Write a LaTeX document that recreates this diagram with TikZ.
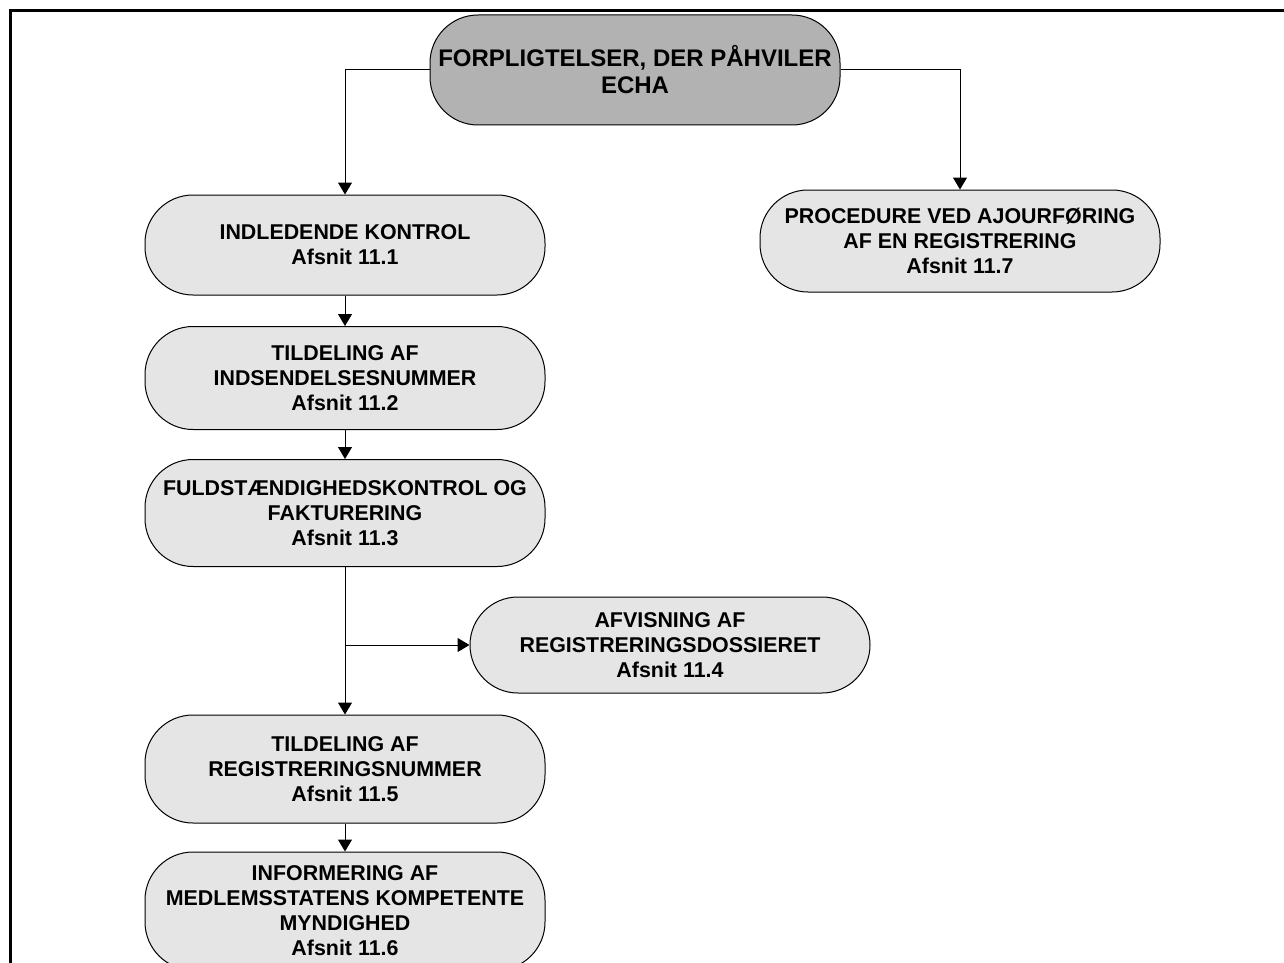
\documentclass[tikz,border=0pt]{standalone}
\usepackage{fontspec}
\setmainfont{Liberation Sans}
\usetikzlibrary{calc}
\usetikzlibrary{arrows.meta}
\tikzstyle{tasknode} = [draw, rectangle, rounded corners=24pt, line width=0.5pt, minimum width=200pt, minimum height=50pt, inner sep=2pt, align=center, font=\fontsize{10.7}{12.5}\selectfont\bfseries]
\tikzstyle{colorTask} = [fill=gray!20]
\tikzstyle{colorHead} = [fill=gray!60]
\tikzstyle{flow} = [-{Triangle[length=6pt,width=7pt]}, line width=0.5pt]

\begin{document}
\begin{tikzpicture}[x=0.5pt, y=0.5pt]
    \useasboundingbox (0,0) rectangle (1284,-963);
    \draw[line width=1.5pt] (10.5,-963) -- (10.5,-11) -- (1284,-11);
    \node[tasknode, colorHead, minimum width=205pt, minimum height=55pt, font=\fontsize{12}{13.5}\selectfont\bfseries] (echa) at (635,-70) {FORPLIGTELSER, DER PÅHVILER\\ECHA};
    \node[tasknode, colorTask] (kontrol) at ($(echa)+(-290,-175)$) {INDLEDENDE KONTROL\\Afsnit 11.1};
    \node[tasknode, colorTask, minimum height=51pt] (ajour) at ($(echa)+(325,-171)$) {PROCEDURE VED AJOURFØRING\\AF EN REGISTRERING\\Afsnit 11.7};
    \node[tasknode, colorTask, minimum height=51.5pt] (indsend) at ($(kontrol)+(0,-133)$) {TILDELING AF\\INDSENDELSESNUMMER\\Afsnit 11.2};
    \node[tasknode, colorTask, minimum height=53.5pt] (fuld) at ($(indsend)+(0,-135)$) {FULDSTÆNDIGHEDSKONTROL OG\\FAKTURERING\\Afsnit 11.3};
    \node[tasknode, colorTask, minimum height=48pt] (afvis) at ($(fuld)+(325,-132)$) {AFVISNING AF\\REGISTRERINGSDOSSIERET\\Afsnit 11.4};
    \node[tasknode, colorTask, minimum height=54pt] (regnr) at ($(fuld)+(0,-256)$) {TILDELING AF\\REGISTRERINGSNUMMER\\Afsnit 11.5};
    \node[tasknode, colorTask, minimum height=59pt] (inform) at ($(regnr)+(0,-142)$) {INFORMERING AF\\MEDLEMSSTATENS KOMPETENTE\\MYNDIGHED\\Afsnit 11.6};
    \coordinate (split) at (fuld.south |- afvis.west);
    \draw[flow] (echa.west) -| (kontrol.north);
    \draw[flow] (echa.east) -| (ajour.north);
    \draw[flow] (kontrol) -- (indsend);
    \draw[flow] (indsend) -- (fuld);
    \draw[flow] (fuld) -- (regnr);
    \draw[flow] (split) -- (afvis.west);
    \draw[flow] (regnr) -- (inform);
\end{tikzpicture}
\end{document}
